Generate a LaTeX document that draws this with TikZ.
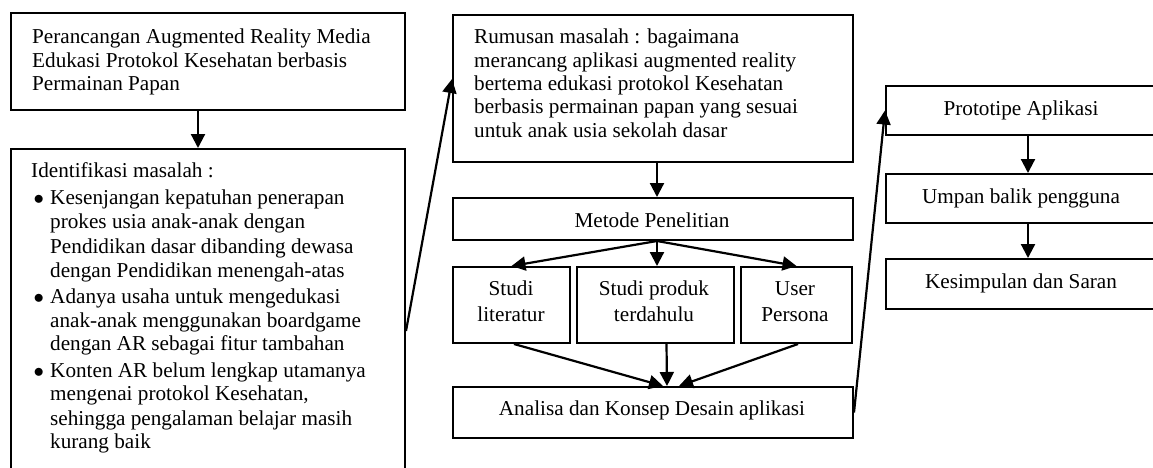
\documentclass[tikz,border=0pt]{standalone}
\usepackage{fontspec}
\setmainfont{Liberation Serif}
\usetikzlibrary{arrows.meta,calc}
\begin{document}
\begin{tikzpicture}[x=1pt,y=-1pt,
  box/.style={draw, line width=2pt, inner sep=0pt, anchor=north west},
  txt/.style={inner sep=0pt, font=\fontsize{21.2}{23.5}\selectfont},
  arr/.style={line width=2.2pt, -{Triangle[length=14pt,width=14pt]}}]
\useasboundingbox (0,0) rectangle (1153,467);
\clip (0,0) rectangle (1153,467);
% boxes
\node[box, minimum width=394pt, minimum height=97pt] (b1) at (10,12) {};
\node[box, minimum width=394pt, minimum height=342pt] (b2) at (10,148) {};
\node[box, minimum width=400pt, minimum height=147pt] (rum) at (452,14) {};
\node[box, minimum width=400pt, minimum height=42pt] (met) at (452,197) {};
\node[box, minimum width=117pt, minimum height=76pt] (lit) at (452,266) {};
\node[box, minimum width=157pt, minimum height=76pt] (pro) at (576,266) {};
\node[box, minimum width=111pt, minimum height=76pt] (usr) at (740,266) {};
\node[box, minimum width=400pt, minimum height=51pt] (ana) at (452,386) {};
\node[box, minimum width=273pt, minimum height=49pt] (proto) at (885,85) {};
\node[box, minimum width=273pt, minimum height=49pt] (ump) at (885,173) {};
\node[box, minimum width=273pt, minimum height=50pt] (kes) at (885,258) {};
% texts box 1
\node[txt, anchor=base west] (t1a) at (32,43) {Perancangan Augmented Reality Media};
\node[txt, anchor=base west] (t1b) at (32,67) {Edukasi Protokol Kesehatan berbasis};
\node[txt, anchor=base west] (t1c) at (32,90) {Permainan Papan};
% texts box 2
\node[txt, anchor=base west] (t2h) at (31,177) {Identifikasi masalah :};
\foreach \y/\n in {204/i, 303/ii, 377/iii}
  \node[txt, anchor=base west] (bul\n) at (33.5,\y) {$\bullet$};
\node[txt, anchor=base west] (t2a) at (50,204) {Kesenjangan kepatuhan penerapan};
\node[txt, anchor=base west] (t2b) at (50,228) {prokes usia anak-anak dengan};
\node[txt, anchor=base west] (t2c) at (50,253) {Pendidikan dasar dibanding dewasa};
\node[txt, anchor=base west] (t2d) at (50,277) {dengan Pendidikan menengah-atas};
\node[txt, anchor=base west] (t2e) at (50,303) {Adanya usaha untuk mengedukasi};
\node[txt, anchor=base west] (t2f) at (50,327) {anak-anak menggunakan boardgame};
\node[txt, anchor=base west] (t2g) at (50,350) {dengan AR sebagai fitur tambahan};
\node[txt, anchor=base west] (t2i) at (50,377) {Konten AR belum lengkap utamanya};
\node[txt, anchor=base west] (t2j) at (50,400) {mengenai protokol Kesehatan,};
\node[txt, anchor=base west] (t2k) at (50,425) {sehingga pengalaman belajar masih};
\node[txt, anchor=base west] (t2l) at (50,448) {kurang baik};
% Rumusan
\node[txt, anchor=base west] (tra) at (474,43) {Rumusan masalah : bagaimana};
\node[txt, anchor=base west] (trb) at (474,67) {merancang aplikasi augmented reality};
\node[txt, anchor=base west] (trc) at (474,90) {bertema edukasi protokol Kesehatan};
\node[txt, anchor=base west] (trd) at (474,113) {berbasis permainan papan yang sesuai};
\node[txt, anchor=base west] (tre) at (474,137) {untuk anak usia sekolah dasar};
% centred labels
\node[txt, anchor=base] (tmet) at (652,227) {Metode Penelitian};
\node[txt, anchor=base] (tlit1) at (511,295) {Studi};
\node[txt, anchor=base] (tlit2) at (511,321) {literatur};
\node[txt, anchor=base] (tpro1) at (654,295) {Studi produk};
\node[txt, anchor=base] (tpro2) at (654,321) {terdahulu};
\node[txt, anchor=base] (tusr1) at (795,295) {User};
\node[txt, anchor=base] (tusr2) at (795,321) {Persona};
\node[txt, anchor=base] (tana) at (652,415) {Analisa dan Konsep Desain aplikasi};
\node[txt, anchor=base] (tproto) at (1021,115) {Prototipe Aplikasi};
\node[txt, anchor=base] (tump) at (1021,203) {Umpan balik pengguna};
\node[txt, anchor=base] (tkes) at (1021,288) {Kesimpulan dan Saran};
% connectors
\draw[arr] ([xshift=-10pt]b1.south) -- ([xshift=-10pt]b2.north);
\draw[arr] ([yshift=-11pt]b2.east) -- ([yshift=9.5pt]rum.west);
\draw[arr] ([xshift=4pt]rum.south) -- ([xshift=4pt]met.north);
\draw[arr] ([xshift=4pt]met.south) -- (lit.north);
\draw[arr] ([xshift=4pt]met.south) -- ([xshift=1.5pt]pro.north);
\draw[arr] ([xshift=4pt]met.south) -- (usr.north);
\draw[arr] ([xshift=2.5pt]lit.south) -- ([xshift=10pt]ana.north);
\draw[arr] ([xshift=11pt]pro.south) -- ([xshift=14pt]ana.north);
\draw[arr] ([xshift=1.5pt]usr.south) -- ([xshift=26pt]ana.north);
\draw[arr] (ana.east) -- (proto.west);
\draw[arr] ([xshift=5.5pt]proto.south) -- ([xshift=5.5pt]ump.north);
\draw[arr] ([xshift=5.5pt]ump.south) -- ([xshift=5.5pt]kes.north);
\end{tikzpicture}
\end{document}
